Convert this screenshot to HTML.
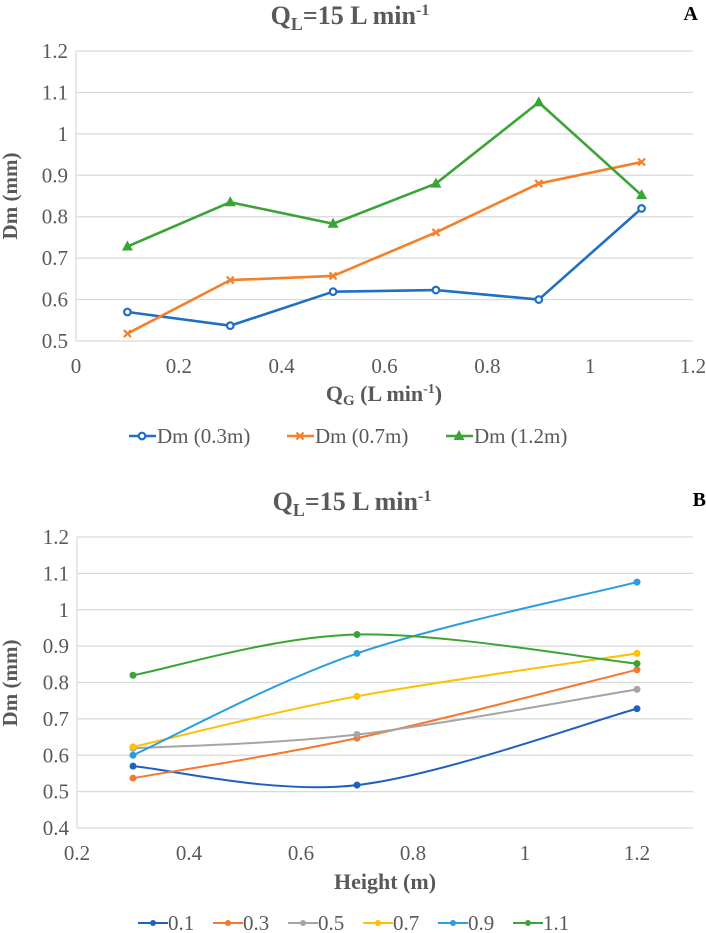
<!DOCTYPE html>
<html><head><meta charset="utf-8"><style>
html,body{margin:0;padding:0;background:#fff;}
svg{display:block;font-family:"Liberation Serif",serif;}
</style></head><body>
<svg id="svg" width="706" height="933" viewBox="0 0 706 933">
<g id="chartA"></g>
<g id="chartB"></g>
</svg>
<script>
// Chart A data
const catsA = [0.1, 0.3, 0.5, 0.7, 0.9, 1.1];
const a03 = [0.57, 0.537, 0.619, 0.623, 0.6, 0.82];
const a07 = [0.518, 0.647, 0.657, 0.762, 0.88, 0.932];
const a12 = [0.728, 0.835, 0.783, 0.88, 1.076, 0.852];
const xTicksA = [0, 0.2, 0.4, 0.6, 0.8, 1, 1.2];
const yTicksA = [0.5, 0.6, 0.7, 0.8, 0.9, 1, 1.1, 1.2];
const namesA = ["Dm (0.3m)", "Dm (0.7m)", "Dm (1.2m)"];
// Chart B data
const heightsB = [0.3, 0.7, 1.2];
const b01 = [0.57, 0.518, 0.728];
const b03 = [0.537, 0.647, 0.835];
const b05 = [0.619, 0.657, 0.781];
const b07 = [0.623, 0.762, 0.88];
const b09 = [0.6, 0.88, 1.076];
const b11 = [0.82, 0.932, 0.852];
const namesB = ["0.1", "0.3", "0.5", "0.7", "0.9", "1.1"];
const xTicksB = [0.2, 0.4, 0.6, 0.8, 1, 1.2];
const yTicksB = [0.4, 0.5, 0.6, 0.7, 0.8, 0.9, 1, 1.1, 1.2];

const NS = "http://www.w3.org/2000/svg";
function mk(parent, tag, attrs, text) {
  const e = document.createElementNS(NS, tag);
  for (const k in attrs) e.setAttribute(k, attrs[k]);
  if (text !== undefined) e.textContent = text;
  parent.appendChild(e);
  return e;
}
function lin(d0, d1, r0, r1) { return v => r0 + (v - d0) * (r1 - r0) / (d1 - d0); }

function smoothPath(pts) {
  let d = "M" + pts[0][0] + "," + pts[0][1];
  for (let i = 0; i < pts.length - 1; i++) {
    const p0 = pts[Math.max(i - 1, 0)], p1 = pts[i], p2 = pts[i + 1], p3 = pts[Math.min(i + 2, pts.length - 1)];
    const c1x = p1[0] + (p2[0] - p0[0]) / 6, c1y = p1[1] + (p2[1] - p0[1]) / 6;
    const c2x = p2[0] - (p3[0] - p1[0]) / 6, c2y = p2[1] - (p3[1] - p1[1]) / 6;
    d += " C" + c1x + "," + c1y + " " + c2x + "," + c2y + " " + p2[0] + "," + p2[1];
  }
  return d;
}

function axes(g, X, Y, xt, yt, x0, x1, y0, y1, xlabelY) {
  yt.forEach(v => {
    const ln = mk(g, "line", {x1: x0, x2: x1, y1: Y(v), y2: Y(v), stroke: "#d9d9d9", "stroke-width": 1.2});
    
    
    const t = mk(g, "text", {x: x0 - 8, y: Y(v) + 7, "text-anchor": "end", "font-size": 21, fill: "#595959"}, String(v));
    
    
  });
  const ax = mk(g, "line", {x1: x0, x2: x0, y1: y0, y2: y1, stroke: "#d9d9d9", "stroke-width": 1.2});
  
  
  xt.forEach(v => {
    const t = mk(g, "text", {x: X(v), y: xlabelY, "text-anchor": "middle", "font-size": 21, fill: "#595959"}, String(v));
    
    
  });
}

function title(g, x, y) {
  const t = mk(g, "text", {x: x, y: y, "text-anchor": "middle", "font-size": 26, "font-weight": "bold", fill: "#595959"});
  
  
  mk(t, "tspan", {}, "Q");
  mk(t, "tspan", {dy: 6, "font-size": 18}, "L");
  mk(t, "tspan", {dy: -6}, "=15 L min");
  mk(t, "tspan", {dy: -9, "font-size": 16}, "-1");
}

// ---------- Chart A ----------
(function () {
  const g = document.getElementById("chartA");
  const X = lin(0, 1.2, 76, 693), Y = lin(0.5, 1.2, 341, 51);
  title(g, 350, 24);
  const lbl = mk(g, "text", {x: 698, y: 20, "text-anchor": "end", "font-size": 20, "font-weight": "bold", fill: "#000"}, "A");
  
  
  axes(g, X, Y, xTicksA, yTicksA, 76, 693, 51, 341, 373);
  const yl = mk(g, "text", {transform: "translate(17,196) rotate(-90)", "text-anchor": "middle", "font-size": 21, "font-weight": "bold", fill: "#595959"}, "Dm (mm)");
  
  
  const xl = mk(g, "text", {x: 384, y: 401, "text-anchor": "middle", "font-size": 22, "font-weight": "bold", fill: "#595959"});
  
  
  mk(xl, "tspan", {}, "Q");
  mk(xl, "tspan", {dy: 4, "font-size": 15}, "G");
  mk(xl, "tspan", {dy: -4}, " (L min");
  mk(xl, "tspan", {dy: -8, "font-size": 14}, "-1");
  mk(xl, "tspan", {dy: 8}, ")");
  const series = [a03, a07, a12];
  const colors = ["#1f6fc5", "#f57f2a", "#3aa535"];
  const markers = ["circle", "x", "tri"];
  function marker(gg, type, x, y, c) {
    let m;
    if (type === "circle") m = mk(gg, "circle", {cx: x, cy: y, r: 3.3, fill: "#fff", stroke: c, "stroke-width": 2.2});
    else if (type === "x") m = mk(gg, "path", {d: `M${x-3.5},${y-3.5}L${x+3.5},${y+3.5}M${x-3.5},${y+3.5}L${x+3.5},${y-3.5}`, stroke: c, "stroke-width": 2.2});
    else m = mk(gg, "path", {d: `M${x},${y-6}L${x+5.5},${y+4}L${x-5.5},${y+4}Z`, fill: c});
    return m;
  }
  series.forEach((s, i) => {
    const sg = mk(g, "g", {});
    
    
    const pts = catsA.map((c, j) => [X(c), Y(s[j])]);
    const pl = mk(sg, "polyline", {points: pts.map(p => p.join(",")).join(" "), fill: "none", stroke: colors[i], "stroke-width": 2.6, "stroke-linejoin": "round"});
    
    
    pts.forEach(p => {
      const m = marker(sg, markers[i], p[0], p[1], colors[i]);
      
      
    });
    const lx = [129, 287, 446][i], ly = 436;
    const lg = mk(g, "g", {});
    
    
    mk(lg, "line", {x1: lx, x2: lx + 27, y1: ly, y2: ly, stroke: colors[i], "stroke-width": 2.6});
    marker(lg, markers[i], lx + 13, ly, colors[i]);
    mk(lg, "text", {x: lx + 28, y: ly + 7, "font-size": 21, fill: "#595959"}, namesA[i]);
  });
})();

// ---------- Chart B ----------
(function () {
  const g = document.getElementById("chartB");
  const X = lin(0.2, 1.3, 77, 693), Y = lin(0.4, 1.2, 828, 537);
  title(g, 352, 510);
  const lbl = mk(g, "text", {x: 706, y: 506, "text-anchor": "end", "font-size": 20, "font-weight": "bold", fill: "#000"}, "B");
  
  
  axes(g, X, Y, xTicksB, yTicksB, 77, 693, 537, 828, 860);
  const yl = mk(g, "text", {transform: "translate(17,683) rotate(-90)", "text-anchor": "middle", "font-size": 21, "font-weight": "bold", fill: "#595959"}, "Dm (mm)");
  
  
  const xl = mk(g, "text", {x: 385, y: 889, "text-anchor": "middle", "font-size": 22, "font-weight": "bold", fill: "#595959"}, "Height (m)");
  
  
  const series = [b01, b03, b05, b07, b09, b11];
  const colors = ["#1f5fbf", "#f5782e", "#a5a5a5", "#ffc000", "#2a9ee0", "#3aa535"];
  series.forEach((s, i) => {
    const sg = mk(g, "g", {});
    
    
    const pts = heightsB.map((h, j) => [X(h), Y(s[j])]);
    const p = mk(sg, "path", {d: smoothPath(pts), fill: "none", stroke: colors[i], "stroke-width": 2});
    
    
    pts.forEach(pt => {
      const c = mk(sg, "circle", {cx: pt[0], cy: pt[1], r: 3.5, fill: colors[i]});
      
      
    });
    const lx = 138 + i * 75, ly = 923;
    const lg = mk(g, "g", {});
    
    
    mk(lg, "line", {x1: lx, x2: lx + 30, y1: ly, y2: ly, stroke: colors[i], "stroke-width": 2});
    mk(lg, "circle", {cx: lx + 15, cy: ly, r: 3, fill: colors[i]});
    mk(lg, "text", {x: lx + 30, y: ly + 7, "font-size": 21, fill: "#595959"}, namesB[i]);
  });
})();
</script>
</body></html>
